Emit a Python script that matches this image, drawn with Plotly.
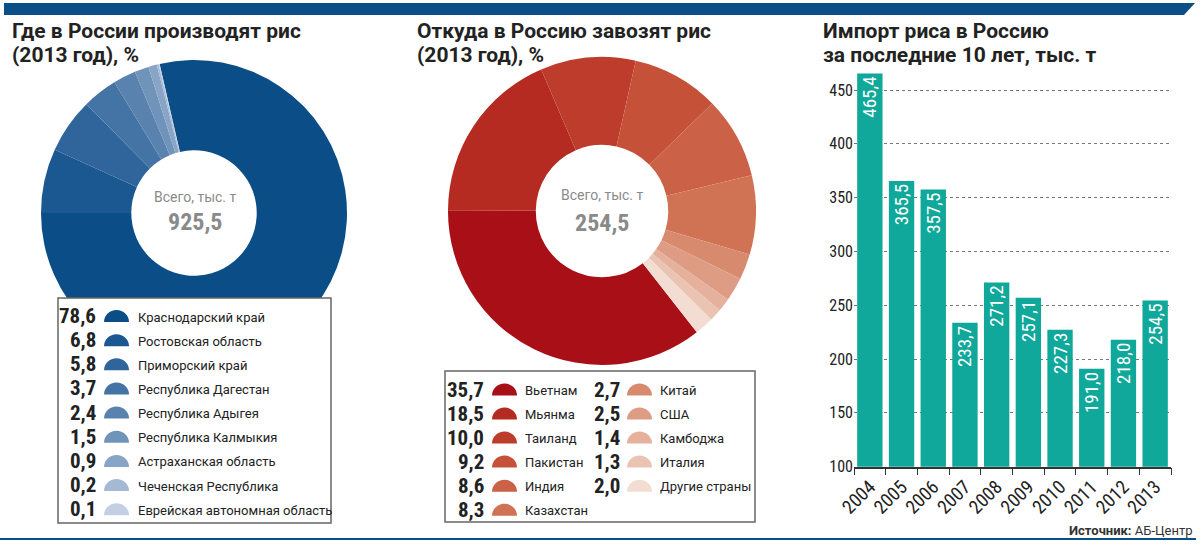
import plotly.graph_objects as go

W, H = 1200, 544

# ---------------- data ----------------
prod_regions = ["Краснодарский край", "Ростовская область", "Приморский край",
                "Республика Дагестан", "Республика Адыгея", "Республика Калмыкия",
                "Астраханская область", "Чеченская Республика", "Еврейская автономная область"]
prod_share = [78.6, 6.8, 5.8, 3.7, 2.4, 1.5, 0.9, 0.2, 0.1]
prod_total = "925,5"

imp_countries = ["Вьетнам", "Мьянма", "Таиланд", "Пакистан", "Индия", "Казахстан",
                 "Китай", "США", "Камбоджа", "Италия", "Другие страны"]
imp_share = [35.7, 18.5, 10.0, 9.2, 8.6, 8.3, 2.7, 2.5, 1.4, 1.3, 2.0]
imp_total = "254,5"

years = ["2004", "2005", "2006", "2007", "2008", "2009", "2010", "2011", "2012", "2013"]
imports = [465.4, 365.5, 357.5, 233.7, 271.2, 257.1, 227.3, 191.0, 218.0, 254.5]
y_ticks = [100, 150, 200, 250, 300, 350, 400, 450]

# ---------------- styles ----------------
blues = ["#0b4d86", "#1b5891", "#2f659b", "#4473a5", "#5a82af", "#7093ba",
         "#88a5c7", "#a3b9d4", "#c3d0e4"]
reds = ["#a80f17", "#b52a21", "#bd3c2b", "#c55238", "#cb6247", "#d07355",
        "#d88a6f", "#de9c84", "#e5b09c", "#ebc3b2", "#f3ddd2"]
TEAL = "#10a89a"
NAVY = "#0c4f87"
NARROW = "Roboto Condensed, Noto Sans Condensed, DejaVu Sans Condensed, sans-serif"
BODY = "Roboto, sans-serif"
DARK = "#222222"


def px(x):
    return x / W


def py(y):
    return 1 - y / H


def fmt(v):
    return f"{v:.1f}".replace(".", ",")


fig = go.Figure()


def pie_domain(cx, cy, r):
    return dict(x=[px(cx - r), px(cx + r)], y=[py(cy + r), py(cy - r)])


fig.add_trace(go.Pie(
    labels=prod_regions, values=prod_share, sort=False, direction="clockwise",
    rotation=-13, hole=0.41, textinfo="none", showlegend=False,
    marker=dict(colors=blues, line=dict(width=0)),
    domain=pie_domain(194, 213, 153), hoverinfo="label+percent"))

fig.add_trace(go.Pie(
    labels=imp_countries, values=imp_share, sort=False, direction="clockwise",
    rotation=142, hole=0.43, textinfo="none", showlegend=False,
    marker=dict(colors=reds, line=dict(width=0)),
    domain=pie_domain(602, 211, 154), hoverinfo="label+percent"))

fig.add_trace(go.Bar(
    x=years, y=imports, marker=dict(color=TEAL, line=dict(width=0)),
    text=[fmt(v) for v in imports], textposition="inside", insidetextanchor="end",
    textangle=-90, constraintext="none", cliponaxis=True,
    textfont=dict(family=NARROW, size=19, color="white"),
    showlegend=False, hoverinfo="x+y"))

shapes = []
annotations = []

# top band
shapes.append(dict(type="path", xref="paper", yref="paper", layer="above",
                   path=f"M {px(4)},{py(3)} L {px(1195)},{py(3)} L {px(1184)},{py(15)} L {px(4)},{py(15)} Z",
                   fillcolor=NAVY, line=dict(width=0)))
# bottom line
shapes.append(dict(type="line", xref="paper", yref="paper", layer="above",
                   x0=px(0), x1=px(1196), y0=py(539), y1=py(539),
                   line=dict(color=NAVY, width=2)))


def title(x, y, txt):
    annotations.append(dict(xref="paper", yref="paper", x=px(x), y=py(y), xanchor="left",
                            yanchor="middle", showarrow=False, text=txt,
                            font=dict(family=BODY, size=21, color=DARK, weight="bold")))


title(10, 31, "Где в России производят рис")
title(10, 55, "(2013 год), %")
title(415, 31, "Откуда в Россию завозят рис")
title(415, 55, "(2013 год), %")
title(821, 31, "Импорт риса в Россию")
title(821, 55, "за последние 10 лет, тыс. т")


def centre(cx, y1, y2, total):
    annotations.append(dict(xref="paper", yref="paper", x=px(cx), y=py(y1), showarrow=False,
                            text="Всего, тыс. т", xanchor="center", yanchor="middle",
                            font=dict(family=BODY, size=14, color="#8a8a8a")))
    annotations.append(dict(xref="paper", yref="paper", x=px(cx), y=py(y2), showarrow=False,
                            text=total, xanchor="center", yanchor="middle",
                            font=dict(family=NARROW, size=24, color="#8a8a8a", weight="bold")))


centre(195, 197, 222, prod_total)
centre(602, 195, 223, imp_total)


def box(x0, y0, x1, y1):
    shapes.append(dict(type="rect", xref="paper", yref="paper", layer="above",
                       x0=px(x0), x1=px(x1), y0=py(y1), y1=py(y0),
                       fillcolor="white", line=dict(color="#666666", width=1.5)))


def dome(x0, yb, w, h, color):
    k = 0.5523
    cx = x0 + w / 2
    rx = w / 2
    pts = [
        (x0, yb),
        (x0, yb - k * h), (cx - k * rx, yb - h), (cx, yb - h),
        (cx + k * rx, yb - h), (x0 + w, yb - k * h), (x0 + w, yb),
    ]
    p = [(px(a), py(b)) for a, b in pts]
    path = (f"M {p[0][0]},{p[0][1]} C {p[1][0]},{p[1][1]} {p[2][0]},{p[2][1]} {p[3][0]},{p[3][1]} "
            f"C {p[4][0]},{p[4][1]} {p[5][0]},{p[5][1]} {p[6][0]},{p[6][1]} Z")
    shapes.append(dict(type="path", xref="paper", yref="paper", layer="above", path=path,
                       fillcolor=color, line=dict(width=0)))


def legend_row(xnum, xicon, xtext, yc, value, label, color):
    annotations.append(dict(xref="paper", yref="paper", x=px(xnum), y=py(yc), showarrow=False,
                            text=fmt(value), xanchor="right", yanchor="middle",
                            font=dict(family=NARROW, size=21, color=DARK, weight="bold")))
    dome(xicon, yc + 6, 25, 12, color)
    annotations.append(dict(xref="paper", yref="paper", x=px(xtext), y=py(yc + 1), showarrow=False,
                            text=label, xanchor="left", yanchor="middle",
                            font=dict(family=BODY, size=13, color=DARK)))


# legend 1
box(58, 298, 331, 523)
for i, (lab, val) in enumerate(zip(prod_regions, prod_share)):
    legend_row(98, 104, 136, 316 + 24.15 * i, val, lab, blues[i])

# legend 2
box(445, 371, 755, 522)
for i, (lab, val) in enumerate(zip(imp_countries, imp_share)):
    col, row = divmod(i, 6)
    if col == 0:
        legend_row(486, 492, 523, 389.5 + 24.04 * row, val, lab, reds[i])
    else:
        legend_row(622, 627, 658, 389.5 + 24.04 * row, val, lab, reds[i])

# source
annotations.append(dict(xref="paper", yref="paper", x=px(1194), y=py(530), showarrow=False,
                        text="<b>Источник:</b> АБ-Центр", xanchor="right", yanchor="middle",
                        font=dict(family=BODY, size=13, color="#333333")))

fig.update_layout(
    width=W, height=H, margin=dict(l=0, r=0, t=0, b=0),
    paper_bgcolor="white", plot_bgcolor="white",
    shapes=shapes, annotations=annotations, bargap=0.2,
    xaxis=dict(domain=[px(854), px(1171)], type="category", showline=True,
               linecolor="#333333", linewidth=1.5, ticks="outside", tickson="boundaries",
               ticklen=7, tickcolor="#333333", tickwidth=1.2, tickangle=-45,
               tickfont=dict(family=NARROW, size=19, color=DARK), showgrid=False,
               automargin=False, fixedrange=True),
    yaxis=dict(domain=[py(466.7), py(68.5)], range=[100, 470], tickvals=y_ticks,
               showgrid=True, griddash="dot", gridcolor="#777777", gridwidth=1,
               showline=False, zeroline=False, ticks="",
               tickfont=dict(family=NARROW, size=16, color=DARK),
               automargin=False, fixedrange=True),
)

fig.write_html("out.html")
